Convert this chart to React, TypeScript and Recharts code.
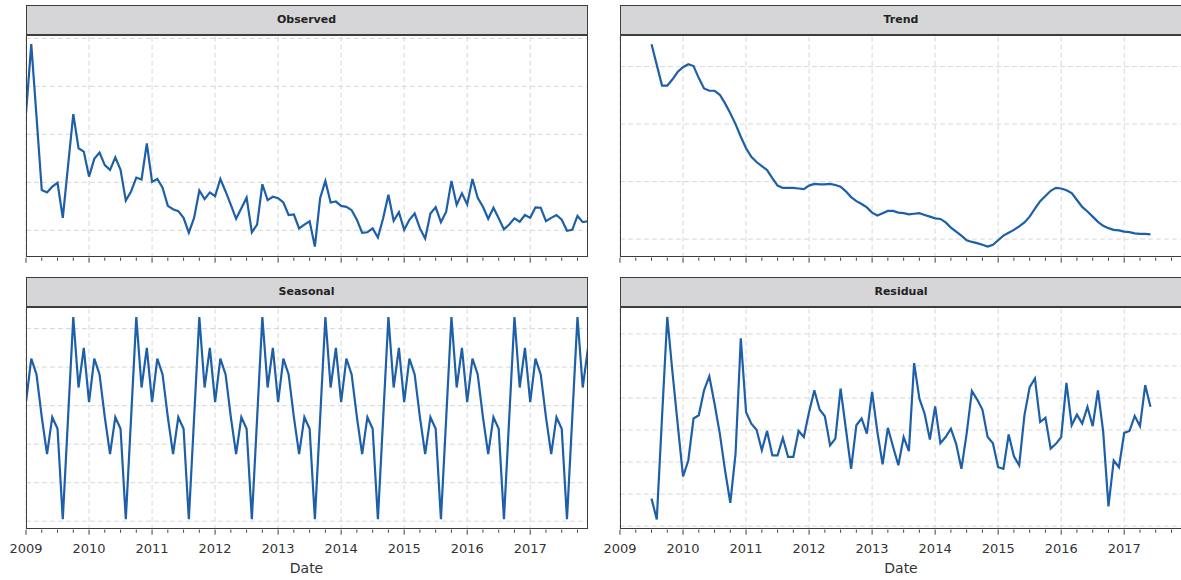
import React from "react";
import { LineChart, Line, XAxis, YAxis, ReferenceLine } from "recharts";

const START_YEAR = 2009;
const YEARS = [2009, 2010, 2011, 2012, 2013, 2014, 2015, 2016, 2017];
const X_DOMAIN = [2009, 2017 + 11 / 12];

// monthly, Jan 2009 – Dec 2017
const observed = [
  344, 488, 337, 184, 179, 191, 199, 126, 234, 342, 271, 264,
  212, 249, 262, 236, 226, 252, 226, 162, 181, 210, 206, 281,
  201, 207, 189, 151, 144, 140, 126, 95, 126, 183, 165, 179,
  171, 207, 181, 153, 124, 146, 168, 96, 112, 196, 163, 170,
  167, 158, 132, 133, 104, 112, 119, 66, 167, 203, 158, 160,
  151, 149, 142, 122, 95, 96, 104, 85, 125, 174, 120, 138,
  101, 122, 135, 104, 83, 135, 148, 117, 139, 203, 153, 177,
  154, 207, 168, 149, 124, 147, 125, 102, 112, 125, 118, 132,
  126, 148, 147, 119, 126, 132, 122, 99, 101, 130, 117, 119,
];

const seasonal = [
  0.9, 12.2, 8.1, -3.0, -12.6, -3.0, -6.0, -29.5, -3.3, 23.0, 4.7, 15.0,
  0.9, 12.2, 8.1, -3.0, -12.6, -3.0, -6.0, -29.5, -3.3, 23.0, 4.7, 15.0,
  0.9, 12.2, 8.1, -3.0, -12.6, -3.0, -6.0, -29.5, -3.3, 23.0, 4.7, 15.0,
  0.9, 12.2, 8.1, -3.0, -12.6, -3.0, -6.0, -29.5, -3.3, 23.0, 4.7, 15.0,
  0.9, 12.2, 8.1, -3.0, -12.6, -3.0, -6.0, -29.5, -3.3, 23.0, 4.7, 15.0,
  0.9, 12.2, 8.1, -3.0, -12.6, -3.0, -6.0, -29.5, -3.3, 23.0, 4.7, 15.0,
  0.9, 12.2, 8.1, -3.0, -12.6, -3.0, -6.0, -29.5, -3.3, 23.0, 4.7, 15.0,
  0.9, 12.2, 8.1, -3.0, -12.6, -3.0, -6.0, -29.5, -3.3, 23.0, 4.7, 15.0,
  0.9, 12.2, 8.1, -3.0, -12.6, -3.0, -6.0, -29.5, -3.3, 23.0, 4.7, 15.0,
];

// Jul 2009 – Jun 2017 (first and last 6 months missing)
const TREND_OFFSET = 6;
const trend = [
  439, 403, 367, 367, 378, 391,
  399, 404, 401, 380, 362, 358, 358, 351, 336, 319, 300, 278,
  258, 243, 234, 227, 220, 206, 193, 189, 189, 189, 188, 187,
  193, 196, 195, 195, 196, 194, 191, 183, 173, 166, 161, 155,
  146, 141, 145, 149, 149, 146, 145, 143, 144, 145, 142, 139,
  136, 135, 129, 120, 113, 106, 98, 95, 93, 90, 87, 90,
  98, 106, 111, 116, 122, 129, 139, 153, 166, 175, 184, 189,
  188, 185, 180, 168, 156, 148, 139, 130, 123, 119, 116, 115,
  113, 112, 110, 109, 109, 108,
];

const residual = [
  -21.4, -27.9, 4.0, 35.3, 17.8, 1.5,
  -14.5, -9.5, 3.6, 4.6, 12.4, 16.8, 8.2, -1.1, -12.6, -22.7, -7.4, 28.6,
  5.6, 2.0, 0.1, -6.3, -0.3, -7.9, -7.9, -2.5, -8.4, -8.4, -0.3, -2.2,
  5.6, 12.4, 6.4, 4.3, -4.8, -2.7, 12.9, 0.4, -12.1, 1.5, 3.6, -1.1,
  11.9, -0.6, -10.7, 0.7, -5.3, -11.0, -2.2, -6.6, 20.9, 9.8, 5.1, -3.0,
  7.4, -4.1, -2.2, 0.4, -4.3, -12.1, -1.1, 12.2, 9.5, 6.4, -2.2, -4.1,
  -11.6, -12.1, -1.4, -8.2, -11.0, 4.6, 13.4, 16.1, 2.5, 3.8, -5.8, -4.3,
  -2.2, 14.7, 1.5, 4.8, 2.0, 7.2, 1.2, 12.4, -0.6, -23.8, -9.5, -11.6,
  -0.9, -0.3, 4.4, 1.2, 14.0, 7.3,
];

const rows = observed.map((v, i) => ({
  t: START_YEAR + i / 12,
  observed: v,
  seasonal: seasonal[i],
  trend: trend[i - TREND_OFFSET] ?? null,
  residual: residual[i - TREND_OFFSET] ?? null,
}));

const QUARTER_TICKS = YEARS.flatMap((y) => [y, y + 0.25, y + 0.5, y + 0.75]);

const PLOT_W = 562;
const PLOT_H = 222.7;
const HEADER_H = 30;
const PAD = 30; // room left of the plot for the first tick label
const FRAME = "#3d3d3d";
const LINE = "#1d5fa8";
const GRID = "#d8d8d8";

function Tick({ x, y, payload, labels }: any) {
  const major = Number.isInteger(payload.value);
  return (
    <g>
      <line x1={x} x2={x} y1={y} y2={y + (major ? 5 : 3)} stroke={FRAME} strokeWidth={1} />
      {labels && major && (
        <text x={x} y={y + 23} textAnchor="middle" fontSize={13} fill="#333" fontFamily="DejaVu Sans">
          {payload.value}
        </text>
      )}
    </g>
  );
}

function Panel({ title, dataKey, left, top, domain, yTicks, labels }: any) {
  return (
    <>
      <div
        style={{
          position: "absolute",
          left,
          top: top - HEADER_H,
          width: PLOT_W,
          height: HEADER_H,
          boxSizing: "border-box",
          background: "#d6d6d9",
          border: `1.2px solid ${FRAME}`,
          display: "flex",
          alignItems: "center",
          justifyContent: "center",
          fontFamily: "DejaVu Sans",
          fontWeight: "bold",
          fontSize: 11,
          color: "#222",
        }}
      >
        {title}
      </div>
      <div style={{ position: "absolute", left: left - PAD, top }}>
        <LineChart
          width={PLOT_W + PAD * 2}
          height={PLOT_H + 40}
          data={rows}
          margin={{ top: 0, right: PAD, bottom: 0, left: PAD }}
        >
          {yTicks.map((v: number) => (
            <ReferenceLine key={"h" + v} y={v} stroke={GRID} strokeDasharray="5 3" />
          ))}
          {YEARS.map((yr) => (
            <ReferenceLine key={"v" + yr} x={yr} stroke={GRID} strokeDasharray="5 3" />
          ))}
          <XAxis
            dataKey="t"
            type="number"
            domain={X_DOMAIN}
            ticks={QUARTER_TICKS}
            interval={0}
            height={40}
            tickSize={0}
            tickMargin={0}
            tickLine={false}
            axisLine={false}
            allowDataOverflow
            tick={(p: any) => <Tick {...p} labels={labels} />}
          />
          <YAxis
            type="number"
            width={0}
            domain={domain}
            ticks={yTicks}
            tick={false}
            tickLine={false}
            axisLine={false}
            allowDataOverflow
          />
          <Line
            type="linear"
            dataKey={dataKey}
            stroke={LINE}
            strokeWidth={2.2}
            dot={false}
            isAnimationActive={false}
          />
        </LineChart>
      </div>
      <div
        style={{
          position: "absolute",
          left,
          top,
          width: PLOT_W,
          height: PLOT_H,
          boxSizing: "border-box",
          border: `1px solid ${FRAME}`,
          pointerEvents: "none",
        }}
      />
      {labels && (
        <div
          style={{
            position: "absolute",
            left,
            top: top + PLOT_H + 31,
            width: PLOT_W,
            textAlign: "center",
            fontFamily: "DejaVu Sans",
            fontSize: 14,
            color: "#333",
          }}
        >
          Date
        </div>
      )}
    </>
  );
}

export default function App() {
  return (
    <div
      style={{
        position: "absolute",
        left: 0,
        top: 0,
        width: 1181,
        height: 580,
        overflow: "hidden",
        background: "#fff",
      }}
    >
      <Panel title="Observed" dataKey="observed" left={25.5} top={34.5} domain={[43, 507]} yTicks={[100, 200, 300, 400, 500]} />
      <Panel title="Trend" dataKey="trend" left={620} top={34.5} domain={[67.6, 455]} yTicks={[100, 200, 300, 400]} />
      <Panel title="Seasonal" dataKey="seasonal" left={25.5} top={306.7} domain={[-32.2, 25.6]} yTicks={[-30, -20, -10, 0, 10, 20]} labels />
      <Panel title="Residual" dataKey="residual" left={620} top={306.7} domain={[-31.1, 38.4]} yTicks={[-30, -20, -10, 0, 10, 20, 30]} labels />
    </div>
  );
}
